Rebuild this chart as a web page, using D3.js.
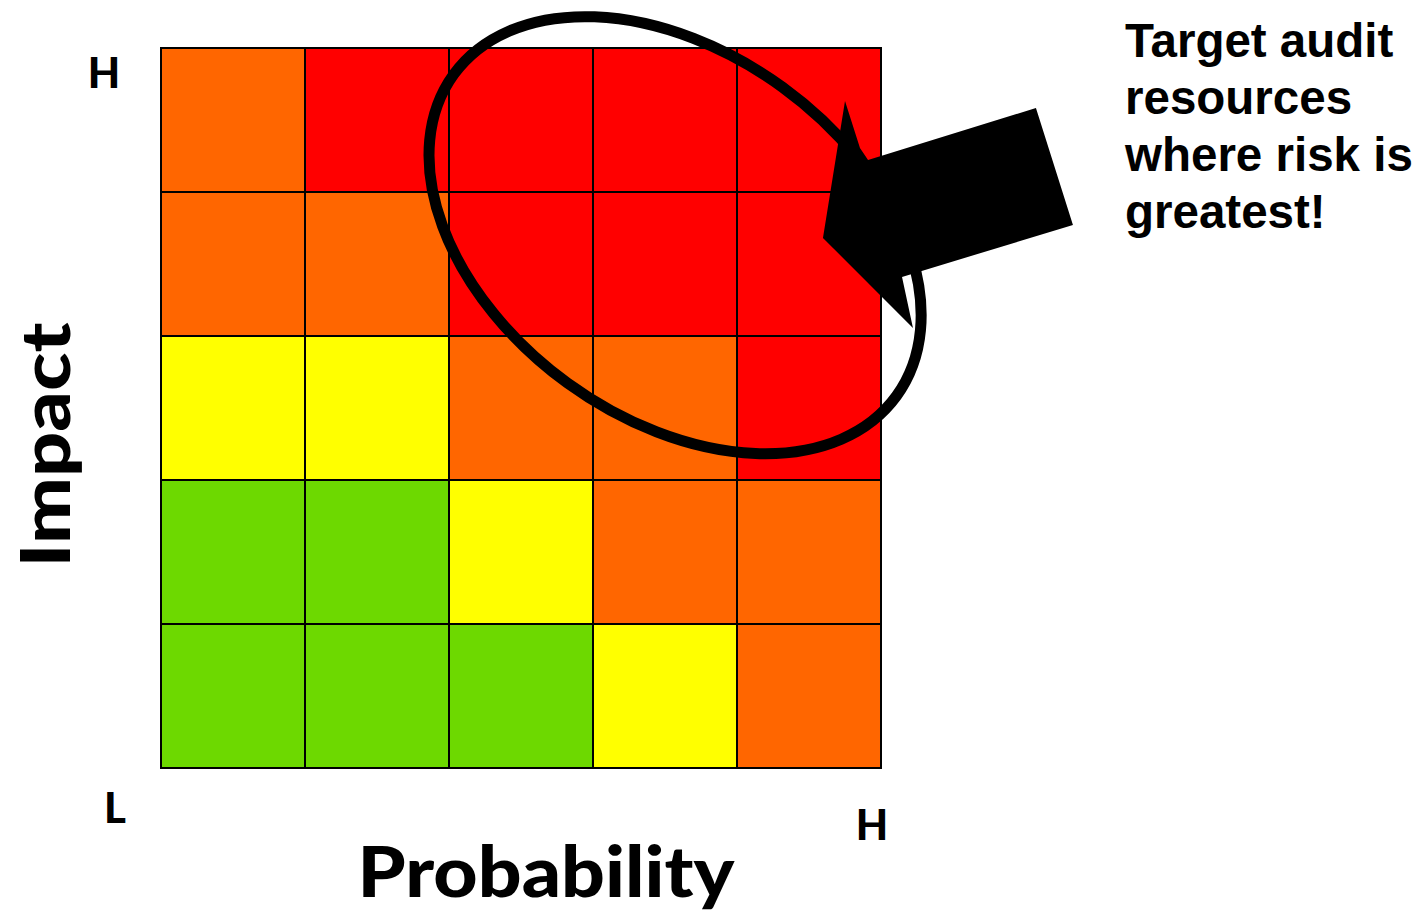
<!DOCTYPE html>
<html>
<head>
<meta charset="utf-8">
<script src="https://cdn.jsdelivr.net/npm/d3@7"></script>
<style>
  html, body { margin: 0; padding: 0; background: #fff; }
  svg { display: block; }
  .gill { font-family: "Lato", "Open Sans", sans-serif; font-weight: 900; }
  .note { font-family: "Liberation Sans", Arial, sans-serif; font-weight: bold; }
</style>
</head>
<body>
<svg id="chart" width="1422" height="913"></svg>
<script>
// Risk matrix: probability (columns, low to high) x impact (rows, high to low)
const probability = [1, 2, 3, 4, 5];
const impact = [5, 4, 3, 2, 1];
const levelNames = ["Low", "Medium", "High", "Extreme"];
const levelColors = ["#6dd900", "#ffff00", "#ff6600", "#ff0000"];
// level index for each impact row (top = impact 5), per probability column
const riskRows = [
  [2, 3, 3, 3, 3],
  [2, 2, 3, 3, 3],
  [1, 1, 2, 2, 3],
  [0, 0, 1, 2, 2],
  [0, 0, 0, 1, 2]
];
const axisEnds = { low: "L", high: "H" };
const noteLines = ["Target audit", "resources", "where risk is", "greatest!"];

const svg = d3.select("#chart");
const grid = { left: 161, top: 48, size: 720 };

const x = d3.scaleBand().domain(probability).range([grid.left, grid.left + grid.size]);
const y = d3.scaleBand().domain(impact).range([grid.top, grid.top + grid.size]);
// continuous versions of the same axes for annotations
const xc = d3.scaleLinear().domain([0.5, 5.5]).range([grid.left, grid.left + grid.size]);
const yc = d3.scaleLinear().domain([0.5, 5.5]).range([grid.top + grid.size, grid.top]);
const unit = x.bandwidth();

const cells = [];
impact.forEach((imp, r) => probability.forEach((p, c) => {
  cells.push({ p, imp, level: riskRows[r][c] });
}));

const color = d3.scaleOrdinal().domain(d3.range(levelNames.length)).range(levelColors);

svg.append("g").selectAll("rect").data(cells).join("rect")
  .attr("x", d => x(d.p))
  .attr("y", d => y(d.imp))
  .attr("width", x.bandwidth())
  .attr("height", y.bandwidth())
  .attr("fill", d => color(d.level))
  .attr("stroke", "#000")
  .attr("stroke-width", 2);

// ellipse around the high-probability / high-impact zone
const ell = { cx: 4.07, cy: 4.2, rx: 1.9, ry: 1.27, angle: 36 };
svg.append("ellipse")
  .attr("cx", xc(ell.cx)).attr("cy", yc(ell.cy))
  .attr("rx", ell.rx * unit).attr("ry", ell.ry * unit)
  .attr("transform", `rotate(${ell.angle} ${xc(ell.cx)} ${yc(ell.cy)})`)
  .attr("fill", "none")
  .attr("stroke", "#000")
  .attr("stroke-width", 11);

// block arrow pointing into the zone
const arrowPts = [
  [5.25, 5.132], [5.354, 4.806], [5.41, 4.722], [6.576, 5.083],
  [6.833, 4.271], [5.646, 3.91], [5.722, 3.556], [5.097, 4.181]
];
svg.append("path")
  .attr("d", d3.line().x(d => xc(d[0])).y(d => yc(d[1])).curve(d3.curveLinearClosed)(arrowPts))
  .attr("fill", "#000");

// axis end labels
svg.append("text").attr("class", "gill").attr("x", 104).attr("y", 88)
  .attr("text-anchor", "middle").attr("font-size", 42).text(axisEnds.high);
svg.append("text").attr("class", "gill").attr("x", 115).attr("y", 823)
  .attr("text-anchor", "middle").attr("font-size", 42).text(axisEnds.low);
svg.append("text").attr("class", "gill").attr("x", 872).attr("y", 840)
  .attr("text-anchor", "middle").attr("font-size", 42).text(axisEnds.high);

// axis titles
svg.append("text").attr("class", "gill")
  .attr("x", 546).attr("y", 897)
  .attr("text-anchor", "middle").attr("font-size", 70)
  .attr("textLength", 377).attr("lengthAdjust", "spacingAndGlyphs")
  .text("Probability");
svg.append("text").attr("class", "gill")
  .attr("transform", "translate(70,445) rotate(-90)")
  .attr("text-anchor", "middle").attr("font-size", 68)
  .attr("textLength", 245).attr("lengthAdjust", "spacingAndGlyphs")
  .text("Impact");

// callout text
svg.append("g").selectAll("text").data(noteLines).join("text")
  .attr("class", "note")
  .attr("x", 1125)
  .attr("y", (d, i) => 57 + i * 57)
  .attr("font-size", 47.5)
  .text(d => d);
</script>
</body>
</html>
